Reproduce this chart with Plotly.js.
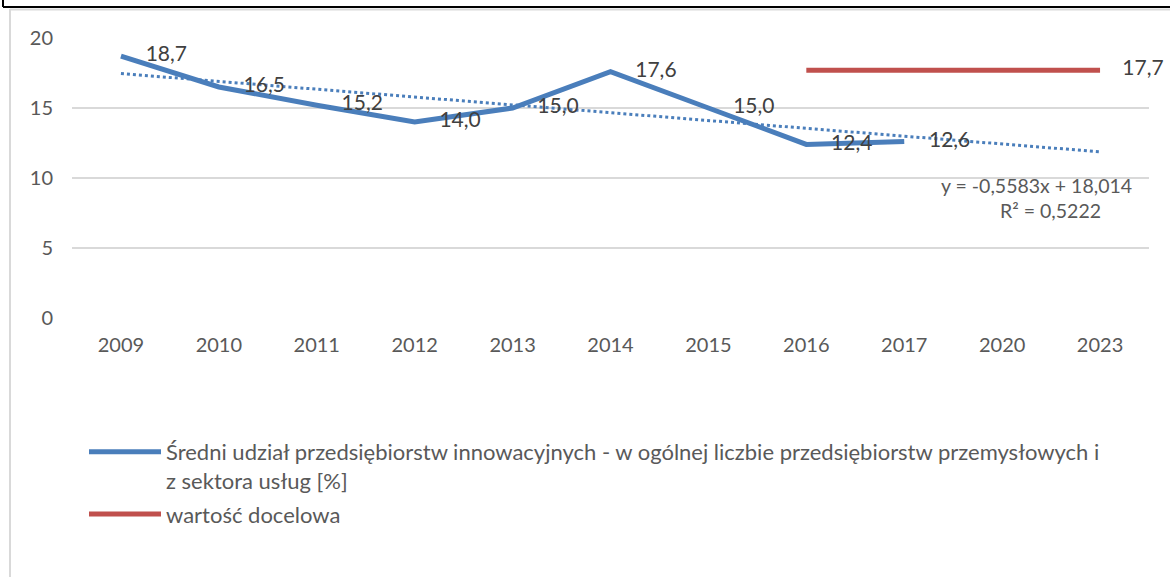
<!DOCTYPE html>
<html>
<head>
<meta charset="utf-8">
<script src="https://cdn.plot.ly/plotly-3.0.1.min.js"></script>
<style>html,body{margin:0;padding:0;background:#fff;}#chart{width:1170px;height:577px;}</style>
</head>
<body>
<div id="chart"></div>
<script>
// categories (x axis)
var years = ['2009','2010','2011','2012','2013','2014','2015','2016','2017','2020','2023'];
// series 1: average share of innovative enterprises [%]
var innovYears = ['2009','2010','2011','2012','2013','2014','2015','2016','2017'];
var innovValues = [18.7, 16.5, 15.2, 14.0, 15.0, 17.6, 15.0, 12.4, 12.6];
var innovName = 'Średni udział przedsiębiorstw innowacyjnych - w ogólnej liczbie przedsiębiorstw przemysłowych i<br>z sektora usług [%]';
// series 2: target value
var targetYears = ['2016','2017','2020','2023'];
var targetValues = [17.7, 17.7, 17.7, 17.7];
var targetName = 'wartość docelowa';
// linear trendline of series 1 (end points as drawn)
var trendYears = ['2009','2023'];
var trendValues = [17.46, 11.87];
var trendEquation = 'y = -0,5583x + 18,014';
var trendR2 = 'R² = 0,5222';
var yTicks = [0, 5, 10, 15, 20];

function fmt(v){ return v.toFixed(1).replace('.', ','); }

var FONT = 'Lato, "Open Sans", sans-serif';
var TXT = '#595959';
var BLUE = '#4A7EBB';
var RED = '#C0504D';
var CLEAR = 'rgba(0,0,0,0)';

var traces = [
  {
    x: trendYears, y: trendValues, type: 'scatter', mode: 'lines',
    line: {color: BLUE, width: 3, dash: 'dot'},
    showlegend: false, hoverinfo: 'skip'
  },
  {
    x: innovYears, y: innovValues, type: 'scatter', mode: 'lines+markers+text',
    name: innovName, legendgroup: 'a',
    line: {color: BLUE, width: 5},
    marker: {size: 38, color: CLEAR, line: {width: 0, color: CLEAR}},
    text: innovValues.map(fmt), textposition: 'middle right',
    textfont: {family: FONT, size: 21, color: '#404040'},
    cliponaxis: false
  },
  {
    x: targetYears, y: targetValues, type: 'scatter', mode: 'lines+markers+text',
    name: targetName, legendgroup: 'b',
    line: {color: RED, width: 5},
    marker: {size: 34, color: CLEAR, line: {width: 0, color: CLEAR}},
    text: targetValues.map(function(v, i){ return i === targetValues.length - 1 ? fmt(v) : ''; }),
    textposition: 'middle right',
    textfont: {family: FONT, size: 21, color: '#404040'},
    cliponaxis: false
  }
];

var L = 72, R = 21, T = 38, B = 259, W = 1170 - L - R, H = 577 - T - B;
function px(x){ return (x - L) / W; }
function py(y){ return (577 - B - y) / H; }

var layout = {
  width: 1170, height: 577,
  margin: {l: L, r: R, t: T, b: B, pad: 0},
  paper_bgcolor: '#ffffff', plot_bgcolor: '#ffffff',
  font: {family: FONT, size: 20, color: TXT},
  showlegend: true,
  legend: {
    x: px(84), y: py(431), xanchor: 'left', yanchor: 'top',
    font: {family: FONT, size: 22, color: TXT},
    valign: 'top', itemwidth: 72, tracegroupgap: 2,
    bgcolor: 'rgba(0,0,0,0)', borderwidth: 0
  },
  xaxis: {
    type: 'category', categoryorder: 'array', categoryarray: years,
    range: [-0.5, years.length - 0.5],
    showgrid: false, zeroline: false, showline: false, ticks: '',
    tickfont: {family: FONT, size: 20, color: TXT},
    ticklabelstandoff: 13, fixedrange: true
  },
  yaxis: {
    range: [0, 20], tickvals: yTicks, ticktext: yTicks.map(String),
    showgrid: true, gridcolor: '#D9D9D9', gridwidth: 2,
    zeroline: false, showline: false, ticks: '',
    tickfont: {family: FONT, size: 20, color: TXT},
    ticklabelstandoff: 18, fixedrange: true
  },
  annotations: [
    {
      xref: 'paper', yref: 'paper', x: px(1036), y: py(185),
      xanchor: 'center', yanchor: 'middle',
      text: trendEquation, showarrow: false,
      font: {family: FONT, size: 19.5, color: TXT}
    },
    {
      xref: 'paper', yref: 'paper', x: px(1050), y: py(210),
      xanchor: 'center', yanchor: 'middle',
      text: trendR2, showarrow: false,
      font: {family: FONT, size: 19.5, color: TXT}
    }
  ],
  shapes: [
    {type: 'line', xref: 'paper', yref: 'paper', x0: px(3), x1: px(1172), y0: py(7), y1: py(7), line: {color: '#000', width: 2}},
    {type: 'line', xref: 'paper', yref: 'paper', x0: px(3), x1: px(3), y0: py(-2), y1: py(7), line: {color: '#000', width: 2}},
    {type: 'line', xref: 'paper', yref: 'paper', x0: px(10), x1: px(1172), y0: py(9.5), y1: py(9.5), line: {color: '#D9D9D9', width: 2}},
    {type: 'line', xref: 'paper', yref: 'paper', x0: px(10), x1: px(10), y0: py(9), y1: py(580), line: {color: '#D9D9D9', width: 2}}
  ]
};

Plotly.newPlot('chart', traces, layout, {staticPlot: true, displayModeBar: false});
</script>
</body>
</html>
